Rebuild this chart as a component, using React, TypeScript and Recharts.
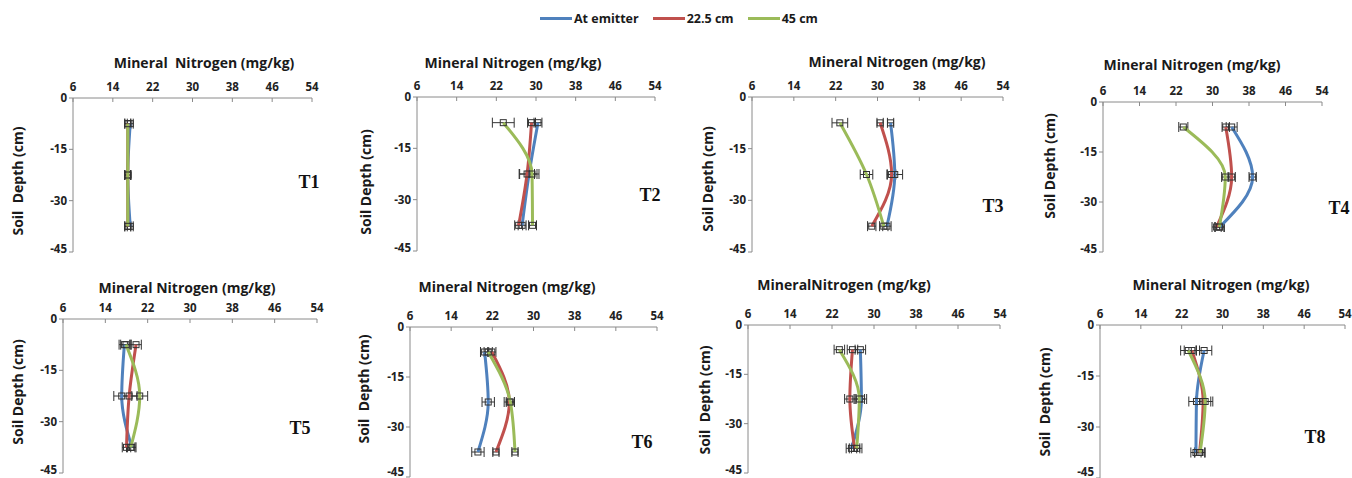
import React from 'react'
import { ScatterChart, Scatter, XAxis, YAxis, ErrorBar } from 'recharts'

// depth of each sampling point (cm)
const depths = [-7.5, -22.5, -37.5]
const nTicks = [6, 14, 22, 30, 38, 46, 54]
const depthTicks = [0, -15, -30, -45]
const treatments = ['T1', 'T2', 'T3', 'T4', 'T5', 'T6', 'T7', 'T8']
const showTag = [true, true, true, true, true, true, false, true]
const titles = [
  'Mineral  Nitrogen (mg/kg)',
  'Mineral Nitrogen (mg/kg)',
  'Mineral Nitrogen (mg/kg)',
  'Mineral Nitrogen (mg/kg)',
  'Mineral Nitrogen (mg/kg)',
  'Mineral Nitrogen (mg/kg)',
  'MineralNitrogen (mg/kg)',
  'Mineral Nitrogen (mg/kg)',
]
const depthTitles = [
  'Soil  Depth (cm)',
  'Soil Depth (cm)',
  'Soil Depth (cm)',
  'Soil Depth (cm)',
  'Soil Depth (cm)',
  'Soil  Depth (cm)',
  'Soil  Depth (cm)',
  'Soil  Depth (cm)',
]

// mineral N (mg/kg) per panel, at depths -7.5 / -22.5 / -37.5
const atEmitter = [
  [17.5, 17.0, 17.5],
  [30.4, 28.6, 27.2],
  [32.5, 33.3, 31.8],
  [34.2, 38.8, 31.6],
  [17.6, 17.1, 19.0],
  [20.5, 21.2, 19.2],
  [27.4, 27.6, 25.7],
  [26.4, 24.9, 24.8],
]
const cm225 = [
  [17.0, 17.0, 17.0],
  [29.1, 28.2, 26.5],
  [30.5, 32.7, 28.9],
  [32.9, 34.2, 30.9],
  [19.8, 18.5, 18.0],
  [21.9, 25.3, 22.7],
  [25.9, 25.4, 26.3],
  [24.0, 26.2, 25.5],
]
const cm45 = [
  [17.0, 17.0, 17.0],
  [23.4, 29.2, 29.3],
  [22.8, 27.9, 31.2],
  [23.6, 32.8, 31.5],
  [17.9, 20.5, 18.8],
  [21.2, 25.5, 26.4],
  [23.4, 27.2, 26.7],
  [23.3, 26.6, 25.6],
]

// standard errors
const errEmitter = [
  [0.6, 0.6, 0.6],
  [0.8, 2.0, 0.8],
  [0.6, 1.5, 0.8],
  [1.2, 0.8, 1.0],
  [1.0, 1.5, 0.8],
  [0.8, 1.2, 1.2],
  [1.0, 1.0, 1.0],
  [1.5, 1.5, 1.0],
]
const err225 = [
  [0.6, 0.6, 0.6],
  [0.8, 1.5, 0.8],
  [0.6, 0.8, 0.8],
  [0.8, 0.8, 1.0],
  [1.0, 1.5, 0.8],
  [0.8, 1.0, 0.6],
  [1.0, 1.0, 1.0],
  [1.5, 1.5, 1.0],
]
const err45 = [
  [0.6, 0.6, 0.6],
  [2.2, 1.0, 0.8],
  [1.5, 1.2, 0.8],
  [1.0, 0.8, 1.0],
  [1.0, 1.5, 0.8],
  [0.8, 0.8, 0.6],
  [1.0, 1.0, 1.0],
  [1.5, 1.5, 1.0],
]

const series = [
  { name: 'At emitter', values: atEmitter, errs: errEmitter, color: '#4f81bd' },
  { name: '22.5 cm', values: cm225, errs: err225, color: '#c0504d' },
  { name: '45 cm', values: cm45, errs: err45, color: '#9bbb59' },
]

// plot area of each panel in page pixels (left, top, right, bottom)
const boxes = [
  { l: 73, t: 98, r: 312, b: 252, title: [204, 63], ylab: [18, 181], tag: [309, 182] },
  { l: 417, t: 97, r: 655, b: 251, title: [513, 63], ylab: [366, 182], tag: [650, 195] },
  { l: 752, t: 97, r: 1003, b: 252, title: [897, 62], ylab: [708, 179], tag: [993, 206] },
  { l: 1103, t: 102, r: 1322, b: 252, title: [1192, 65], ylab: [1050, 166], tag: [1339, 208] },
  { l: 63, t: 319, r: 317, b: 473, title: [187, 288], ylab: [18, 392], tag: [300, 428] },
  { l: 410, t: 327, r: 657, b: 477, title: [507, 287], ylab: [364, 389], tag: [642, 442] },
  { l: 748, t: 325, r: 1000, b: 473, title: [844, 285], ylab: [705, 400], tag: [0, 0] },
  { l: 1100, t: 325, r: 1345, b: 478, title: [1221, 285], ylab: [1045, 402], tag: [1315, 437] },
]

const FONT = '"Open Sans", "Noto Sans", sans-serif'
const tickStyle = { fill: '#222', fontSize: 11.5, fontWeight: 700, fontFamily: FONT }

const Square = (props: any) => {
  const { cx, cy } = props
  if (cx == null || cy == null) return null
  return <rect x={cx - 3} y={cy - 3} width={6} height={6} fill="none" stroke="#333" strokeWidth={1} />
}

// y tick that keeps the lowest label inside the picture
const DepthTick = (props: any) => {
  const { x, y, payload, pageBottom } = props
  const shift = Math.min(0, pageBottom - 6 - y)
  return (
    <text x={x} y={y + shift} dy={4} textAnchor="end" {...tickStyle}>
      {payload.value}
    </text>
  )
}

function Panel({ i }: { i: number }) {
  const g = boxes[i]
  const YW = 30
  const XH = 22
  const w = g.r - g.l
  const h = g.b - g.t
  const top = g.t - XH
  return (
    <>
      <div style={{ position: 'absolute', left: g.l - YW, top }}>
        <ScatterChart
          width={w + YW + 8}
          height={h + XH + 6}
          margin={{ top: 0, right: 8, bottom: 6, left: 0 }}
        >
          <XAxis
            type="number"
            dataKey="n"
            orientation="top"
            domain={[6, 54]}
            ticks={nTicks}
            height={XH}
            tick={tickStyle}
            tickSize={-4}
            tickMargin={11}
            axisLine={{ stroke: '#8a8a8a' }}
            tickLine={{ stroke: '#8a8a8a' }}
            allowDataOverflow
          />
          <YAxis
            type="number"
            dataKey="depth"
            domain={[-45, 0]}
            ticks={depthTicks}
            width={YW}
            tick={<DepthTick pageBottom={478 - top} />}
            tickSize={4}
            axisLine={{ stroke: '#8a8a8a' }}
            tickLine={{ stroke: '#8a8a8a' }}
            allowDataOverflow
          />
          {series.map((s) => (
            <Scatter
              key={s.name}
              name={s.name}
              data={depths.map((d, k) => ({ depth: d, n: s.values[i][k], err: s.errs[i][k] }))}
              line={{ stroke: s.color, strokeWidth: 3 }}
              lineType="joint"
              lineJointType="monotoneY"
              shape={<Square />}
              isAnimationActive={false}
            >
              <ErrorBar dataKey="err" direction="x" width={5} stroke="#333" strokeWidth={1} isAnimationActive={false} />
            </Scatter>
          ))}
        </ScatterChart>
      </div>
      <div
        style={{
          position: 'absolute', left: g.title[0] - 120, top: g.title[1] - 10, width: 240,
          textAlign: 'center', fontFamily: FONT, fontWeight: 700, fontSize: 14, color: '#1a1a1a',
          lineHeight: '20px', whiteSpace: 'pre',
        }}
      >
        {titles[i]}
      </div>
      <div
        style={{
          position: 'absolute', left: g.ylab[0] - 70, top: g.ylab[1] - 10, width: 140,
          textAlign: 'center', fontFamily: FONT, fontWeight: 700, fontSize: 14, color: '#1a1a1a',
          lineHeight: '20px', whiteSpace: 'pre', transform: 'rotate(-90deg)',
        }}
      >
        {depthTitles[i]}
      </div>
      {showTag[i] && (
        <div
          style={{
            position: 'absolute', left: g.tag[0] - 20, top: g.tag[1] - 12, width: 40,
            textAlign: 'center', fontFamily: '"Liberation Serif", "DejaVu Serif", serif',
            fontWeight: 700, fontSize: 18, color: '#111', lineHeight: '24px',
          }}
        >
          {treatments[i]}
        </div>
      )}
    </>
  )
}

function LegendBar() {
  return (
    <div
      style={{
        position: 'absolute', left: 540, top: 8, height: 20, display: 'flex', alignItems: 'center',
        fontFamily: FONT, fontWeight: 700, fontSize: 12.5, color: '#1a1a1a', whiteSpace: 'nowrap',
      }}
    >
      {series.map((s) => (
        <div key={s.name} style={{ display: 'flex', alignItems: 'center', marginRight: 14 }}>
          <div style={{ width: 32, height: 3, background: s.color, marginRight: 2 }} />
          <span>{s.name}</span>
        </div>
      ))}
    </div>
  )
}

export default function App() {
  return (
    <div
      style={{
        position: 'absolute', left: 0, top: 0, width: 1352, height: 478,
        overflow: 'hidden', background: '#fff',
      }}
    >
      <LegendBar />
      {boxes.map((_, i) => (
        <Panel key={i} i={i} />
      ))}
    </div>
  )
}
